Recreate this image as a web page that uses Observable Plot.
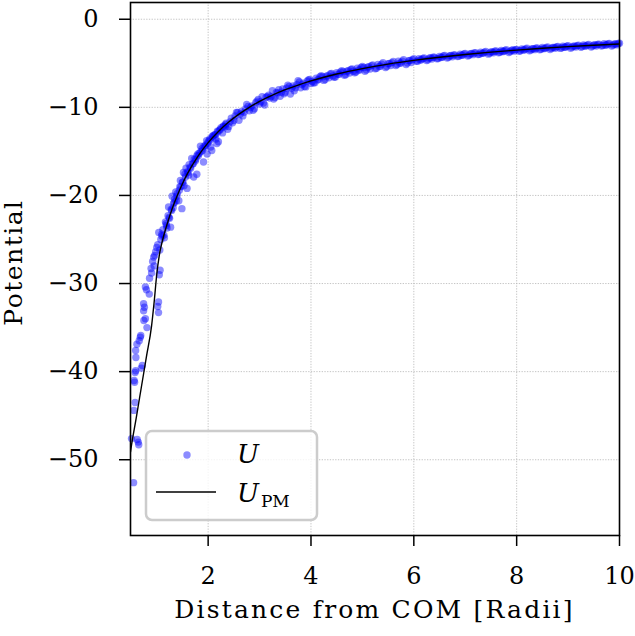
<!DOCTYPE html>
<html>
<head>
<meta charset="utf-8">
<script src="https://cdn.jsdelivr.net/npm/d3@7"></script>
<script src="https://cdn.jsdelivr.net/npm/@observablehq/plot@0.6"></script>
<style>
  html, body { margin: 0; padding: 0; background: white; }
  #chart svg { display: block; }
</style>
</head>
<body>
<div id="chart"></div>
<script>
// ---- Data ----
// Model potential curve U_PM
const curveX = [0.49, 0.5, 0.6, 0.7, 0.8, 0.9, 0.95, 1.0, 1.05, 1.1, 1.2, 1.3, 1.4, 1.5, 1.6, 1.8, 2.0, 2.2, 2.4, 2.6, 2.8, 3.0, 3.25, 3.5, 3.75, 4.0, 4.5, 5.0, 5.5, 6.0, 6.5, 7.0, 7.5, 8.0, 8.5, 9.0, 9.5, 10.0];
const curveY = [-49.1, -48.7, -45.3, -41.8, -38.3, -34.8, -32.1, -29.0, -26.8, -25.4, -23.3, -21.5, -20.0, -18.67, -17.5, -15.56, -14.0, -12.73, -11.67, -10.77, -10.0, -9.33, -8.62, -8.0, -7.47, -7.0, -6.22, -5.6, -5.09, -4.67, -4.31, -4.0, -3.73, -3.5, -3.29, -3.11, -2.95, -2.8];

// Sampled potential U (scatter), inner region
const innerX = [0.55, 0.64, 0.62, 0.65, 0.555, 0.58, 0.57, 0.56, 0.58, 0.59, 0.72, 0.70, 0.595, 0.59, 0.615, 0.68, 0.66, 0.69, 0.81, 0.78, 0.75, 0.745, 0.745, 0.76, 1.035, 1.035, 1.02, 0.855, 0.78, 0.80, 0.89, 1.065, 1.05, 0.94, 0.92, 0.90, 1.00, 0.98, 1.02, 1.10, 1.04, 0.96, 1.06, 1.08, 0.86, 0.95, 0.51];
const innerY = [-52.6, -48.0, -47.7, -48.3, -44.4, -43.5, -41.2, -41.0, -40.1, -39.9, -39.3, -39.6, -38.4, -37.6, -36.9, -36.1, -36.5, -35.9, -35.0, -34.0, -34.2, -33.1, -32.3, -32.7, -33.3, -32.1, -32.6, -31.2, -30.4, -30.7, -28.3, -28.5, -29.0, -27.0, -27.5, -28.8, -25.9, -26.4, -25.6, -24.4, -24.2, -26.8, -26.2, -25.0, -29.4, -28.0, -47.6];

// middle region
const midX = [1.10, 1.12, 1.15, 1.17, 1.18, 1.20, 1.22, 1.23, 1.25, 1.27, 1.28, 1.30, 1.32, 1.33, 1.35, 1.37, 1.38, 1.40, 1.43, 1.45, 1.46, 1.49, 1.50, 1.52, 1.53, 1.55, 1.57, 1.59, 1.60, 1.62, 1.63, 1.65, 1.68, 1.70, 1.72, 1.73, 1.75, 1.78, 1.78, 1.80, 1.83, 1.85, 1.88, 1.91, 1.92, 1.95, 1.97, 1.98, 2.00, 2.03, 2.05, 2.07, 2.08, 2.10, 2.13, 2.15, 2.17, 2.18, 2.20, 2.22, 2.25, 2.28, 2.30, 2.33, 2.35, 2.38,
  1.14, 1.19, 1.24, 1.29, 1.34, 1.39, 1.44, 1.47, 1.51, 1.56, 1.61, 1.66, 1.71, 1.76, 1.81, 1.86, 1.89, 1.94, 1.99, 2.04, 2.09, 2.14, 2.19, 2.24, 2.29, 2.34];
const midY = [-24.6, -23.9, -24.8, -23.0, -23.2, -23.7, -22.3, -21.3, -22.6, -23.6, -21.6, -20.1, -21.4, -20.9, -20.4, -19.6, -20.6, -19.8, -20.6, -19.0, -18.3, -21.5, -18.5, -17.4, -18.9, -17.6, -16.9, -19.2, -17.3, -17.7, -16.5, -16.8, -15.8, -16.4, -17.9, -15.9, -16.1, -17.6, -15.5, -15.3, -15.2, -14.4, -14.7, -16.2, -14.4, -14.3, -13.8, -15.3, -13.9, -13.6, -14.5, -14.9, -13.3, -13.2, -13.1, -13.6, -14.1, -12.7, -13.9, -12.6, -12.3, -12.9, -12.1, -12.2, -11.8, -12.5,
  -24.5, -23.4, -22.5, -21.7, -20.8, -20.1, -19.4, -19.0, -18.5, -17.9, -17.4, -16.9, -16.4, -15.9, -15.5, -15.0, -14.9, -14.5, -14.1, -13.7, -13.4, -13.1, -12.8, -12.5, -12.2, -11.95];

// outer region
const outerX = [2.40, 2.45, 2.50, 2.55, 2.60, 2.65, 2.70, 2.75, 2.80, 2.85, 2.90, 2.95, 3.00, 3.05, 3.10, 3.15, 3.20, 3.25, 3.30, 3.35, 3.40, 3.45, 3.50, 3.55, 3.60, 3.65, 3.70, 3.75, 3.80, 3.85, 3.90, 3.95, 4.00,
  4.05, 4.10, 4.15, 4.20, 4.25, 4.30, 4.35, 4.40, 4.45, 4.50, 4.55, 4.60, 4.65, 4.70, 4.75, 4.80, 4.85, 4.90, 4.95, 5.00, 5.05, 5.10, 5.15, 5.20, 5.25, 5.30, 5.35, 5.40, 5.45, 5.50, 5.55, 5.60, 5.65, 5.70, 5.75, 5.80, 5.85, 5.90, 5.95, 6.00,
  6.05, 6.10, 6.15, 6.20, 6.25, 6.30, 6.35, 6.40, 6.45, 6.50, 6.55, 6.60, 6.65, 6.70, 6.75, 6.80, 6.85, 6.90, 6.95, 7.00, 7.05, 7.10, 7.15, 7.20, 7.25, 7.30, 7.35, 7.40, 7.45, 7.50, 7.55, 7.60, 7.65, 7.70, 7.75, 7.80, 7.85, 7.90, 7.95, 8.00,
  8.05, 8.10, 8.15, 8.20, 8.25, 8.30, 8.35, 8.40, 8.45, 8.50, 8.55, 8.60, 8.65, 8.70, 8.75, 8.80, 8.85, 8.90, 8.95, 9.00, 9.05, 9.10, 9.15, 9.20, 9.25, 9.30, 9.35, 9.40, 9.45, 9.50, 9.55, 9.60, 9.65, 9.70, 9.75, 9.80, 9.85, 9.90, 9.95, 10.00,
  2.425, 2.525, 2.625, 2.725, 2.825, 2.925, 3.025, 3.125, 3.225, 3.325, 3.425, 3.525, 3.625, 3.725, 3.825, 3.925, 4.025, 4.225, 4.425, 4.625, 4.825, 5.025,
  4.125, 4.325, 4.525, 4.725, 4.925, 5.125, 5.325, 5.525, 5.725, 5.925, 6.125, 6.325, 6.525, 6.725, 6.925, 7.125, 7.325, 7.525, 7.725, 7.925, 8.125, 8.325, 8.525, 8.725, 8.925, 9.125, 9.325, 9.525, 9.725, 9.925,
  2.475, 2.575, 2.675, 2.775, 2.875, 2.975, 3.075, 3.175, 3.275, 3.375, 3.475, 3.575, 3.675, 3.775, 3.875, 3.975, 4.075, 4.175, 4.275, 4.375, 4.475, 4.575, 4.675, 4.775, 4.875, 4.975, 5.075, 5.175, 5.275, 5.375, 5.475, 5.575, 5.675, 5.775, 5.875, 5.975,
  6.075, 6.175, 6.275, 6.375, 6.475, 6.575, 6.675, 6.775, 6.875, 6.975, 7.075, 7.175, 7.275, 7.375, 7.475, 7.575, 7.675, 7.775, 7.875, 7.975, 8.075, 8.175, 8.275, 8.375, 8.475, 8.575, 8.675, 8.775, 8.875, 8.975, 9.075, 9.175, 9.275, 9.375, 9.475, 9.575, 9.675, 9.775, 9.875, 9.975];
const outerY = [-12.17, -11.23, -11.50, -10.58, -11.47, -10.47, -10.57, -9.68, -10.40, -9.83, -10.16, -9.29, -9.63, -8.78, -9.73, -8.79, -8.95, -8.12, -8.89, -8.36, -8.74, -7.92, -8.30, -7.49, -8.48, -7.57, -7.77, -6.97, -7.77, -7.27, -7.68, -6.89, -7.30,
  -7.21, -6.68, -6.85, -6.42, -6.94, -6.46, -6.64, -6.16, -6.59, -6.07, -6.25, -5.84, -6.37, -5.91, -6.10, -5.63, -6.07, -5.56, -5.76, -5.35, -5.90, -5.44, -5.64, -5.19, -5.63, -5.13, -5.33, -4.94, -5.49, -5.04, -5.25, -4.80, -5.26, -4.76, -4.97, -4.58, -5.14, -4.70, -4.91, -4.47,
  -4.78, -4.49, -4.60, -4.40, -4.68, -4.41, -4.51, -4.30, -4.49, -4.21, -4.33, -4.12, -4.41, -4.15, -4.25, -4.04, -4.24, -3.96, -4.08, -3.88, -4.17, -3.91, -4.02, -3.81, -4.01, -3.74, -3.86, -3.66, -3.96, -3.70, -3.81, -3.60, -3.81, -3.54, -3.66, -3.47, -3.77, -3.51, -3.62, -3.42,
  -3.63, -3.36, -3.49, -3.30, -3.59, -3.34, -3.45, -3.25, -3.46, -3.19, -3.33, -3.14, -3.44, -3.19, -3.30, -3.10, -3.31, -3.05, -3.18, -2.99, -3.29, -3.05, -3.16, -2.96, -3.18, -2.91, -3.05, -2.86, -3.16, -2.92, -3.03, -2.84, -3.05, -2.79, -2.92, -2.74, -3.04, -2.80, -2.91, -2.72,
  -11.65, -10.99, -10.77, -10.18, -10.01, -9.47, -9.36, -8.86, -8.78, -8.32, -8.28, -7.84, -7.82, -7.42, -7.42, -7.03, -7.06, -6.53, -6.43, -5.95, -5.90, -5.47,
  -6.89, -6.42, -6.24, -5.84, -5.77, -5.39, -5.36, -5.02, -4.99, -4.68, -4.62, -4.37, -4.34, -4.12, -4.09, -3.89, -3.87, -3.70, -3.66, -3.50, -3.48, -3.35, -3.33, -3.19, -3.18, -3.05, -3.04, -2.92, -2.92, -2.81,
  -11.76, -10.57, -10.97, -9.89, -10.34, -9.11, -9.51, -8.62, -9.05, -8.00, -8.46, -7.63, -8.12, -7.12, -7.63, -6.84, -7.22, -6.51, -6.85, -6.20, -6.56, -5.97, -6.29, -5.71, -5.99, -5.48, -5.77, -5.26, -5.56, -5.11, -5.36, -4.92, -5.13, -4.75, -4.97, -4.59,
  -4.76, -4.45, -4.61, -4.31, -4.47, -4.18, -4.32, -4.05, -4.19, -3.95, -4.08, -3.84, -3.97, -3.74, -3.85, -3.64, -3.75, -3.54, -3.66, -3.46, -3.57, -3.38, -3.48, -3.29, -3.40, -3.22, -3.31, -3.14, -3.24, -3.07, -3.17, -3.00, -3.10, -2.94, -3.04, -2.87, -2.97, -2.81, -2.92, -2.76];

const xTicks = [2, 4, 6, 8, 10];
const yTicks = [0, -10, -20, -30, -40, -50];
const xLabel = "Distance from COM [Radii]";
const yLabel = "Potential";
const seriesLabel = "U";
const modelLabelMain = "U";
const modelLabelSub = "PM";

// ---- build tables ----
const curve = curveX.map((x, i) => ({x, y: curveY[i]}));
const pts = [];
[[innerX, innerY], [midX, midY], [outerX, outerY]].forEach(([xs, ys]) => xs.forEach((x, i) => pts.push({x, y: ys[i]})));

const W = 635, H = 636;
const mL = 130, mR = 16, mT = 2, mB = 101;
const font = "DejaVu Serif";

const grid = {stroke: "#b5b5b5", strokeOpacity: 1, strokeWidth: 0.8, strokeDasharray: "1.3,1.4"};

const chart = Plot.plot({
  width: W, height: H,
  marginLeft: mL, marginRight: mR, marginTop: mT, marginBottom: mB,
  style: {fontFamily: font, fontSize: "24px", background: "white", color: "black"},
  x: {domain: [0.49, 10]},
  y: {domain: [-58.6, 1.9]},
  marks: [
    Plot.gridX(xTicks.filter(t => t < 10), grid),
    Plot.gridY(yTicks, grid),
    Plot.dot(pts, {x: "x", y: "y", r: 3.7, fill: "#0000ff", fillOpacity: 0.45, stroke: "none"}),
    Plot.line(curve, {x: "x", y: "y", stroke: "black", strokeWidth: 1.4, curve: "monotone-x", clip: true}),
    Plot.axisX({ticks: xTicks, tickSize: 11, tickPadding: 20, strokeWidth: 1.5, fontSize: 24, label: null, tickFormat: d3.format("d")}),
    Plot.axisY({ticks: yTicks, tickSize: 11, tickPadding: 21, strokeWidth: 1.5, fontSize: 24, label: null, tickFormat: d => d < 0 ? "\u2212" + Math.abs(d) : String(d)}),
    Plot.frame({stroke: "black", strokeWidth: 1.6})
  ]
});

document.getElementById("chart").appendChild(chart);

// ---- axis labels and legend ----
const svg = d3.select(chart);
svg.append("text")
  .attr("x", (mL + W - mR) / 2).attr("y", 618)
  .attr("text-anchor", "middle")
  .style("font-family", font).style("font-size", "25px").style("letter-spacing", "2.2px")
  .text(xLabel);
svg.append("text")
  .attr("transform", `translate(22,262.5) rotate(-90)`)
  .attr("text-anchor", "middle")
  .style("font-family", font).style("font-size", "25px").style("letter-spacing", "1.5px")
  .text(yLabel);

const lg = svg.append("g").attr("text-anchor", "start");
lg.append("rect")
  .attr("x", 146).attr("y", 431).attr("width", 171).attr("height", 89).attr("rx", 6)
  .attr("fill", "white").attr("fill-opacity", 0.8)
  .attr("stroke", "#cccccc").attr("stroke-width", 2.5);
lg.append("circle").attr("cx", 187).attr("cy", 455).attr("r", 3.7)
  .attr("fill", "#0000ff").attr("fill-opacity", 0.45);
lg.append("line").attr("x1", 156).attr("x2", 216).attr("y1", 492).attr("y2", 492)
  .attr("stroke", "black").attr("stroke-width", 1.4);
lg.append("text").attr("x", 237).attr("y", 463).attr("text-anchor", "start")
  .style("font-family", font).style("font-size", "26px").style("font-style", "italic")
  .text(seriesLabel);
const t2 = lg.append("text").attr("x", 237).attr("y", 502).attr("text-anchor", "start")
  .style("font-family", font).style("font-size", "26px");
t2.append("tspan").style("font-style", "italic").text(modelLabelMain);
t2.append("tspan").attr("dy", 5).attr("dx", 2).style("font-size", "17px").text(modelLabelSub);
</script>
</body>
</html>
